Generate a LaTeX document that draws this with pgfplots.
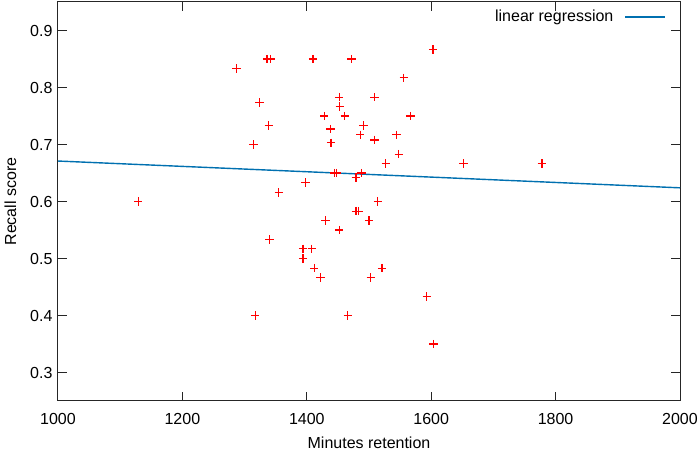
\documentclass[border=0pt]{standalone}
\usepackage{fontspec}
\setmainfont{Liberation Sans}
\usepackage{pgfplots}
\pgfplotsset{compat=1.18}
\definecolor{regblue}{RGB}{0,112,176}
\definecolor{ptred}{RGB}{255,0,0}
\pgfplotsset{myleg/.style={legend image code/.code={\path (0pt,0pt); \draw[##1] (9pt,0pt) -- (49pt,0pt);}}}
\begin{document}
\fontsize{16}{19}\selectfont
\begin{tikzpicture}
\begin{axis}[
  scale only axis,
  width=622pt, height=399pt,
  at={(0,0)}, anchor=south west,
  xmin=1000, xmax=2000, ymin=0.25, ymax=0.95,
  xtick={1000,1200,...,2000},
  ytick={0.3,0.4,...,0.91},
  /pgf/number format/assume math mode=true,
  xticklabel style={/pgf/number format/1000 sep={}, font=\fontsize{16}{19}\selectfont, yshift=-7pt},
  yticklabel style={/pgf/number format/fixed, /pgf/number format/precision=1, /pgf/number format/fixed zerofill, font=\fontsize{16}{19}\selectfont},
  tick align=inside,
  major tick length=9pt,
  tick style={black!85, line width=1pt},
  axis line style={black!85, line width=1pt},
  xlabel={Minutes retention},
  ylabel={Recall score},
  label style={font=\fontsize{16}{19}\selectfont},
  xlabel style={yshift=-1pt},
  ylabel style={yshift=3pt},
  legend plot pos=right,
  legend style={draw=none, fill=none, at={(rel axis cs:1,1)}, anchor=north east, xshift=-11pt, yshift=-4pt, font=\fontsize{16}{19}\selectfont},
  legend cell align=right,
]
\addplot[only marks, color=ptred, mark=+, mark size=4.2pt, mark options={line width=1.25pt}, forget plot] coordinates {
(1129,0.600) (1287,0.833) (1314,0.700) (1317,0.400) (1324,0.774)
(1336,0.850) (1342,0.850) (1339,0.733) (1340,0.533) (1355,0.616)
(1394,0.517) (1394,0.500) (1398,0.633) (1408,0.517) (1410,0.850)
(1412,0.483) (1422,0.467) (1428,0.750) (1430,0.567) (1438,0.727)
(1439,0.703) (1444,0.650) (1448,0.650) (1452,0.783) (1453,0.767)
(1452,0.550) (1461,0.750) (1466,0.400) (1472,0.850) (1479,0.642)
(1479,0.583) (1483,0.583) (1486,0.717) (1488,0.650) (1491,0.733)
(1500,0.567) (1503,0.467) (1509,0.783) (1509,0.708) (1514,0.600)
(1521,0.483) (1527,0.667) (1544,0.717) (1548,0.683) (1556,0.817)
(1567,0.750) (1593,0.433) (1603,0.867) (1604,0.350) (1652,0.667)
(1778,0.667)
};
\addplot[regblue, line width=1.4pt, no marks, myleg] coordinates {(1000,0.671) (2000,0.624)};
\addlegendentry{linear regression}
\end{axis}
\pgfresetboundingbox
\path[use as bounding box] (-58pt,-51pt) rectangle (641pt,401pt);
\end{tikzpicture}
\end{document}
